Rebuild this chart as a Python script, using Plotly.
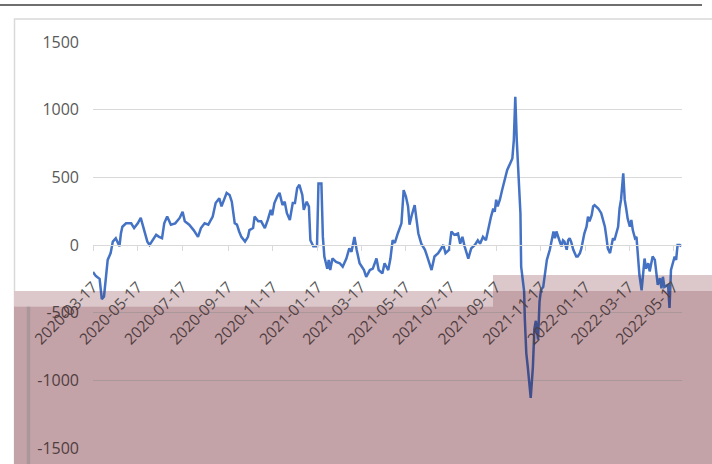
import plotly.graph_objects as go
import pandas as pd

# series: day offset from the first date, value
start_date = "2020-03-17"
day_offsets = [
    0, 4, 9, 12, 15, 18, 20, 24, 27, 31, 36, 38, 40, 45, 52, 56, 61, 65, 69, 74,
    77, 81, 86, 90, 94, 97, 101, 106, 112, 118, 122, 125, 131, 137, 143, 147, 152, 157, 163, 167,
    172, 175, 178, 182, 186, 189, 193, 196, 199, 202, 207, 211, 213, 218, 220, 225, 229, 234, 238, 242,
    244, 247, 251, 254, 258, 261, 264, 268, 272, 275, 278, 281, 285, 287, 291, 294, 296, 300, 305, 307,
    311, 313, 315, 319, 321, 323, 326, 331, 336, 340, 345, 349, 352, 356, 359, 363, 369, 372, 377, 381,
    386, 389, 394, 397, 402, 405, 408, 411, 415, 420, 423, 426, 429, 431, 434, 438, 440, 443, 447, 452,
    456, 461, 465, 470, 473, 477, 480, 485, 488, 492, 497, 500, 503, 506, 511, 515, 520, 524, 527, 531,
    535, 538, 540, 542, 545, 547, 549, 551, 554, 557, 561, 564, 567, 571, 573, 575, 577, 580, 582, 583,
    585, 587, 588, 590, 592, 594, 596, 599, 601, 603, 606, 608, 610, 613, 618, 622, 627, 629, 631, 635,
    638, 640, 642, 645, 647, 649, 651, 654, 656, 658, 660, 663, 665, 667, 669, 672, 674, 676, 679, 681,
    683, 688, 692, 694, 697, 699, 701, 704, 706, 708, 710, 715, 717, 719, 722, 724, 726, 728, 731, 733,
    735, 738, 740, 742, 744, 747, 749, 751, 753, 756, 758, 760, 762, 765, 767, 769, 772, 774, 776, 778,
    783, 785, 787, 790, 792, 794, 796, 799, 801,
]
values = [
    -200, -230, -250, -400, -380, -210, -110, -60, 25, 50, -10, 85, 135, 160, 160, 125, 160, 200, 125, 25,
    0, 35, 75, 60, 50, 160, 210, 150, 160, 200, 245, 175, 150, 110, 60, 125, 160, 150, 210, 310,
    345, 285, 335, 385, 370, 320, 160, 150, 100, 60, 25, 60, 110, 125, 210, 175, 175, 125, 185, 260,
    220, 310, 360, 385, 295, 320, 235, 185, 310, 310, 420, 445, 370, 260, 320, 285, 35, -10, -10, 455,
    455, 60, -85, -175, -110, -185, -100, -125, -135, -160, -100, -25, -50, 60, -35, -135, -185, -235, -185, -175,
    -100, -185, -210, -135, -185, -100, 35, 15, 85, 160, 405, 360, 285, 150, 220, 295, 210, 85, 10, -35,
    -100, -185, -85, -60, -35, 0, -60, -35, 100, 75, 85, 10, 60, -10, -100, -25, 0, 35, 10, 60,
    35, 100, 160, 210, 270, 245, 335, 285, 335, 405, 480, 555, 590, 640, 775, 1095, 775, 505, 235, -160,
    -260, -340, -550, -800, -900, -1000, -1130, -900, -620, -560, -700, -420, -330, -310, -110, -35, 100, 50, 100, 35,
    -10, 35, 25, -35, 35, 50, 25, -35, -60, -85, -85, -60, -25, 35, 85, 135, 210, 175, 220, 285,
    295, 270, 235, 195, 135, 60, -25, -60, -10, 50, 35, 135, 270, 335, 530, 335, 270, 195, 135, 185,
    110, 50, 60, -60, -220, -335, -185, -100, -175, -135, -195, -135, -85, -110, -210, -295, -245, -320, -235, -310,
    -295, -465, -185, -110, -85, -110, 0, 0, -10,
]
tick_labels = [
    "2020-03-17", "2020-05-17", "2020-07-17", "2020-09-17", "2020-11-17",
    "2021-01-17", "2021-03-17", "2021-05-17", "2021-07-17", "2021-09-17",
    "2021-11-17", "2022-01-17", "2022-03-17", "2022-05-17",
]
y_ticks = [-1500, -1000, -500, 0, 500, 1000, 1500]
y_tick_labels = ["-1500", "-1000", "-500", "0", "500", "1000", "1500"]

dates = pd.Timestamp(start_date) + pd.to_timedelta(day_offsets, unit="D")
x_end = pd.Timestamp(start_date) + pd.Timedelta(days=802)

W, H = 712, 464
M = dict(l=93, r=30, t=42, b=16)


def fx(p):
    return (p - M["l"]) / (W - M["l"] - M["r"])


def fy(p):
    return (H - M["b"] - p) / (H - M["t"] - M["b"])


def box(x0, x1, y0, y1, fill, layer):
    return dict(type="rect", xref="paper", yref="paper",
                x0=fx(x0), x1=fx(x1), y0=fy(y1), y1=fy(y0),
                fillcolor=fill, line=dict(width=0), layer=layer)


light_fill, dark_fill = "rgb(243,228,230)", "rgb(254,234,236)"
light_tint, dark_tint = "rgba(60,0,10,0.12)", "rgba(60,0,10,0.30)"

shapes = [
    dict(type="line", xref="paper", yref="paper", x0=fx(0), x1=fx(702), y0=fy(5), y1=fy(5),
         line=dict(color="#3f3f3f", width=1.3), layer="above"),
    dict(type="rect", xref="paper", yref="paper", x0=fx(14.5), x1=fx(740), y0=fy(490), y1=fy(19),
         line=dict(color="#d9d9d9", width=1.5), fillcolor="rgba(0,0,0,0)", layer="below"),
    # the washed-out band across the bottom of the picture
    box(14, 493, 291, 306.5, light_fill, "below"),
    box(14, 493, 306.5, 480, dark_fill, "below"),
    box(493, 730, 275, 291, light_fill, "below"),
    box(493, 730, 291, 480, dark_fill, "below"),
    dict(type="line", xref="paper", yref="paper", x0=fx(28.5), x1=fx(28.5), y0=fy(480), y1=fy(306.5),
         line=dict(color="#d9d9d9", width=3.5), layer="below"),
    box(14, 493, 291, 306.5, light_tint, "above"),
    box(14, 493, 306.5, 480, dark_tint, "above"),
    box(493, 730, 275, 291, light_tint, "above"),
    box(493, 730, 291, 480, dark_tint, "above"),
]

fig = go.Figure(go.Scatter(x=dates, y=values, mode="lines",
                           line=dict(color="#4472C4", width=2.5), hoverinfo="skip"))

fig.update_layout(
    width=W, height=H, margin=M,
    paper_bgcolor="white", plot_bgcolor="rgba(0,0,0,0)",
    showlegend=False,
    font=dict(family="Open Sans", color="#595959"),
    shapes=shapes,
)
fig.update_xaxes(
    type="date", range=[pd.Timestamp(start_date), x_end],
    anchor="free", position=0.5, automargin=False,
    showgrid=False, zeroline=False,
    showline=True, linecolor="#d9d9d9", linewidth=1,
    ticks="outside", ticklen=5, tickcolor="#d9d9d9", tickwidth=1,
    tickvals=tick_labels, ticktext=tick_labels, tickangle=-45,
    tickfont=dict(size=15.5, color="#595959"), ticklabelstandoff=21,
)
fig.update_yaxes(
    range=[-1500, 1500], tickvals=y_ticks, ticktext=y_tick_labels, automargin=False,
    showgrid=True, gridcolor="#d9d9d9", gridwidth=1, zeroline=False,
    showline=False, ticks="", ticklabelstandoff=13,
    tickfont=dict(size=16, color="#595959"),
)

# the page's default body margin would push the chart 8px in from the corner
fig.write_html("out.html", config={"displayModeBar": False},
               post_script="document.body.style.margin = '0px';")
